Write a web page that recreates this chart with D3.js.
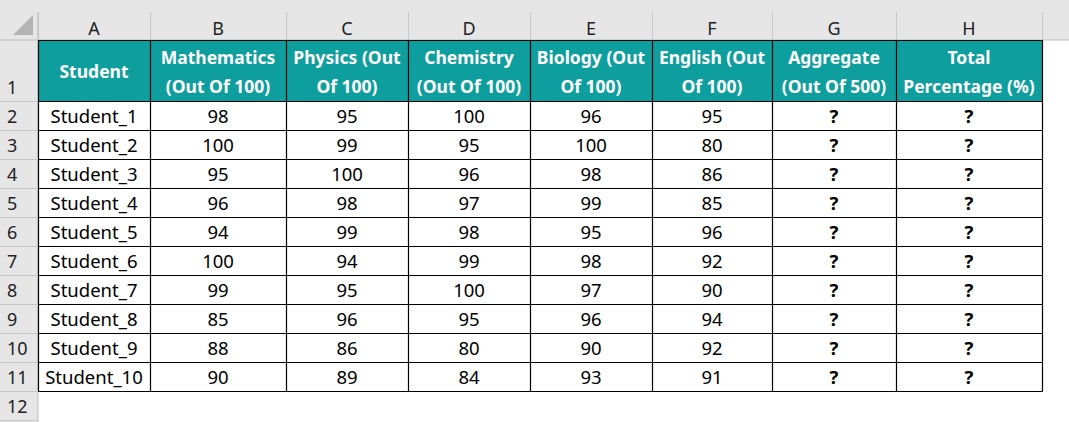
<!DOCTYPE html>
<html><head><meta charset="utf-8">
<script src="https://cdn.jsdelivr.net/npm/d3@7"></script>
<style>body{margin:0;background:#fff}svg{display:block}</style>
</head><body>
<svg id="chart"></svg>
<script>
const columnLetters = ['A', 'B', 'C', 'D', 'E', 'F', 'G', 'H'];
const headers = [['Student'], ['Mathematics', '(Out Of 100)'], ['Physics (Out', 'Of 100)'], ['Chemistry', '(Out Of 100)'],
    ['Biology (Out', 'Of 100)'], ['English (Out', 'Of 100)'], ['Aggregate', '(Out Of 500)'], ['Total', 'Percentage (%)']];
const students = ['Student_1', 'Student_2', 'Student_3', 'Student_4', 'Student_5', 'Student_6', 'Student_7', 'Student_8', 'Student_9', 'Student_10'];
const mathematics = [98, 100, 95, 96, 94, 100, 99, 85, 88, 90];
const physics = [95, 99, 100, 98, 99, 94, 95, 96, 86, 89];
const chemistry = [100, 95, 96, 97, 98, 99, 100, 95, 80, 84];
const biology = [96, 100, 98, 99, 95, 98, 97, 96, 90, 93];
const english = [95, 80, 86, 85, 96, 92, 90, 94, 92, 91];
const aggregate = students.map(() => '?');
const percentage = students.map(() => '?');

const width = 1069, height = 422;
const colEdges = [38, 150, 286, 408, 530, 652, 772, 896, 1042];
const x = d3.scaleOrdinal().domain(columnLetters).range(colEdges.slice(0, 8));
const w = d3.scaleOrdinal().domain(columnLetters).range(colEdges.slice(1).map((e, i) => e - colEdges[i]));
const rowNums = d3.range(2, 13);
const y = d3.scaleLinear().domain([2, 3]).range([101, 130]);
const font = "'Noto Sans', sans-serif";

const svg = d3.select('#chart').attr('width', width).attr('height', height);
svg.selectAll('*').remove();

// top strip + column header
svg.append('rect').attr('width', width).attr('height', 40).attr('fill', '#e6e6e6');
svg.append('rect').attr('width', 38).attr('height', height).attr('fill', '#e6e6e6');
svg.append('path').attr('d', 'M33,15 L33,35 L13,35 Z').attr('fill', '#b4b4b4');
const lettersG = svg.append('g');
columnLetters.forEach(c => {
    lettersG.append('line').attr('x1', x(c) + 0.5).attr('x2', x(c) + 0.5).attr('y1', 12).attr('y2', 40).attr('stroke', '#c8c8c8');
    lettersG.append('text').attr('x', x(c) + w(c) / 2).attr('y', 35).attr('text-anchor', 'middle')
        .attr('font-family', font).attr('font-size', 18).attr('fill', '#222').text(c);
});
lettersG.append('line').attr('x1', 1042.5).attr('x2', 1042.5).attr('y1', 12).attr('y2', 40).attr('stroke', '#c8c8c8');
svg.append('line').attr('x1', 0).attr('x2', width).attr('y1', 40).attr('y2', 40).attr('stroke', '#bdbdbd');
svg.append('line').attr('x1', 38).attr('x2', 38).attr('y1', 12).attr('y2', height).attr('stroke', '#bdbdbd');

// row numbers
const rowLabels = [1].concat(rowNums);
rowLabels.forEach(r => {
    const bot = r === 1 ? 101 : y(r + 1);
    svg.append('line').attr('x1', 0).attr('x2', 38).attr('y1', bot + 0.5).attr('y2', bot + 0.5).attr('stroke', '#c8c8c8');
    svg.append('text').attr('x', 7).attr('y', bot - 7)
        .attr('font-family', font).attr('font-size', 18).attr('fill', '#222').text(r);
});

// header row
const hdr = svg.append('g');
columnLetters.forEach((c, i) => {
    hdr.append('rect').attr('x', x(c)).attr('y', 40).attr('width', w(c)).attr('height', 61).attr('fill', '#0e9e9e');
    const lines = headers[i];
    lines.forEach((t, j) => {
        hdr.append('text').attr('x', x(c) + w(c) / 2)
            .attr('y', lines.length === 1 ? 78 : 64 + j * 29).attr('text-anchor', 'middle')
            .attr('font-family', font).attr('font-weight', 'bold').attr('font-size', 17.5)
            .attr('fill', '#fff').text(t);
    });
});

// data rows
const columns = [students, mathematics, physics, chemistry, biology, english, aggregate, percentage];
students.forEach((s, r) => {
    columnLetters.forEach((c, i) => {
        const v = columns[i][r];
        svg.append('text').attr('x', x(c) + w(c) / 2).attr('y', y(r + 2) + 22).attr('text-anchor', 'middle')
            .attr('font-family', font).attr('font-size', 18.5).attr('font-weight', v === '?' ? 'bold' : 'normal')
            .attr('fill', '#000').text(v);
    });
});

// black borders
const grid = svg.append('g').attr('stroke', '#000').attr('stroke-width', 1.2);
colEdges.forEach(e => grid.append('line').attr('x1', e + 0.5).attr('x2', e + 0.5).attr('y1', 40).attr('y2', 391.5));
[40].concat(d3.range(2, 13).map(r => y(r))).forEach(v =>
    grid.append('line').attr('x1', 38).attr('x2', 1042.5).attr('y1', v + 0.5).attr('y2', v + 0.5));
</script>
</body></html>
